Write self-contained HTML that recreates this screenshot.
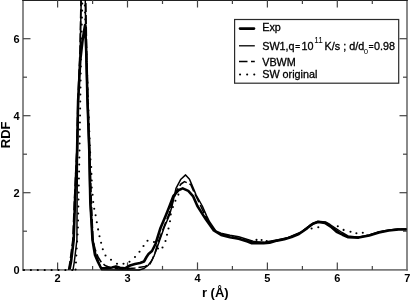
<!DOCTYPE html>
<html><head><meta charset="utf-8"><title>RDF</title>
<style>html,body{margin:0;padding:0;background:#fff;overflow:hidden}svg{display:block}</style>
</head><body>
<svg width="410" height="301" viewBox="0 0 410 301">
<defs><clipPath id="c"><rect x="23" y="0" width="384" height="271"/></clipPath></defs>
<rect width="410" height="301" fill="#fff"/>
<g fill="#6e6e6e">
<rect x="22.2" y="0" width="1.6" height="270.7"/>
<rect x="406.2" y="0" width="1.6" height="270.7"/>
<rect x="22.2" y="269.1" width="385.6" height="1.6"/>
</g>
<rect x="22.2" y="0" width="385.6" height="1" fill="#222"/>
<g stroke="#444" stroke-width="1.2">
<line x1="57.6" y1="269.9" x2="57.6" y2="262.4"/>
<line x1="57.6" y1="0" x2="57.6" y2="7.5"/>
<line x1="92.6" y1="269.9" x2="92.6" y2="265.9"/>
<line x1="92.6" y1="0" x2="92.6" y2="4.0"/>
<line x1="127.5" y1="269.9" x2="127.5" y2="262.4"/>
<line x1="127.5" y1="0" x2="127.5" y2="7.5"/>
<line x1="162.5" y1="269.9" x2="162.5" y2="265.9"/>
<line x1="162.5" y1="0" x2="162.5" y2="4.0"/>
<line x1="197.5" y1="269.9" x2="197.5" y2="262.4"/>
<line x1="197.5" y1="0" x2="197.5" y2="7.5"/>
<line x1="232.4" y1="269.9" x2="232.4" y2="265.9"/>
<line x1="232.4" y1="0" x2="232.4" y2="4.0"/>
<line x1="267.4" y1="269.9" x2="267.4" y2="262.4"/>
<line x1="267.4" y1="0" x2="267.4" y2="7.5"/>
<line x1="302.4" y1="269.9" x2="302.4" y2="265.9"/>
<line x1="302.4" y1="0" x2="302.4" y2="4.0"/>
<line x1="337.3" y1="269.9" x2="337.3" y2="262.4"/>
<line x1="337.3" y1="0" x2="337.3" y2="7.5"/>
<line x1="372.3" y1="269.9" x2="372.3" y2="265.9"/>
<line x1="372.3" y1="0" x2="372.3" y2="4.0"/>
<line x1="23.0" y1="231.2" x2="27.0" y2="231.2"/>
<line x1="407.0" y1="231.2" x2="403.0" y2="231.2"/>
<line x1="23.0" y1="192.7" x2="30.5" y2="192.7"/>
<line x1="407.0" y1="192.7" x2="399.5" y2="192.7"/>
<line x1="23.0" y1="154.2" x2="27.0" y2="154.2"/>
<line x1="407.0" y1="154.2" x2="403.0" y2="154.2"/>
<line x1="23.0" y1="115.7" x2="30.5" y2="115.7"/>
<line x1="407.0" y1="115.7" x2="399.5" y2="115.7"/>
<line x1="23.0" y1="77.2" x2="27.0" y2="77.2"/>
<line x1="407.0" y1="77.2" x2="403.0" y2="77.2"/>
<line x1="23.0" y1="38.7" x2="30.5" y2="38.7"/>
<line x1="407.0" y1="38.7" x2="399.5" y2="38.7"/>
</g>
<g clip-path="url(#c)" fill="none" stroke="#000" stroke-linejoin="round">
<polyline points="69.5,269.5 71.0,262.0 73.7,240.0 75.0,201.0 77.1,151.0 78.1,101.0 80.3,60.0 82.6,40.0 85.1,25.0 86.2,50.0 87.5,101.0 89.3,151.0 90.3,201.0 92.5,240.0 95.0,255.0 98.0,262.0 101.0,268.0 106.8,268.3 112.0,267.5 116.0,266.4 120.0,267.8 125.0,268.3 130.0,265.5 135.0,264.0 140.0,263.0 144.0,261.5 146.5,257.0 148.5,254.0 152.0,251.0 154.0,247.0 155.5,244.0 160.5,228.0 166.0,215.0 169.2,207.0 173.5,195.8 178.4,190.3 182.7,188.4 188.3,190.9 193.2,196.4 197.4,206.0 206.0,219.6 213.8,230.5 221.1,235.0 229.9,237.2 238.7,238.8 247.5,241.5 251.9,243.3 263.6,243.3 269.6,242.8 277.0,240.6 284.3,239.2 291.6,237.0 298.9,234.0 307.3,228.1 313.2,223.4 318.3,222.0 324.9,223.0 330.7,226.6 336.6,231.8 342.5,234.7 348.3,237.2 358.6,237.6 369.2,235.4 379.0,232.5 388.8,230.5 398.6,229.5 406.5,229.5" stroke-width="2.6"/>
<polyline points="73.0,269.9 74.3,262.0 76.9,240.0 77.1,201.0 77.5,151.0 78.4,101.0 80.2,50.0 81.3,-5.0 85.2,-5.0 85.9,50.0 87.3,101.0 89.0,151.0 90.0,201.0 92.5,240.0 96.0,255.0 101.5,269.8 139.0,270.0 144.0,268.5 148.0,265.5 151.5,261.0 154.0,256.0 157.0,248.0 158.0,245.0 164.0,228.0 169.5,215.0 172.0,206.0 176.0,188.4 180.9,179.2 185.6,174.9 189.5,179.2 194.4,190.9 196.1,195.0 202.3,206.0 206.6,215.9 209.7,222.0 215.8,231.0 221.0,233.3 230.0,235.3 238.7,236.8 247.5,239.5 253.0,241.3 258.0,242.3 265.2,242.0 278.4,239.8 288.2,237.5 301.3,232.0 310.1,225.0 317.8,221.3 325.5,222.0 330.0,224.5 336.0,228.5 342.0,232.5 348.0,236.0 358.4,237.2 369.2,235.0 379.0,231.8 388.8,230.0 398.6,229.0 406.5,229.0" stroke-width="1.5"/>
<polyline points="68.6,269.9 70.0,262.0 72.8,240.0 74.4,201.0 76.8,151.0 77.9,101.0 80.0,50.0 81.1,-5.0 85.7,-5.0 86.6,50.0 87.9,101.0 89.7,151.0 91.3,201.0 93.0,240.0 95.0,249.0 98.0,257.0 101.5,262.5 105.0,265.5 110.0,267.5 118.0,268.8 125.0,269.0 135.0,268.0 145.0,266.5 150.0,264.0 152.5,259.0 155.0,253.0 157.5,244.0 163.5,228.0 169.0,214.0 172.5,202.0 177.0,190.0 181.0,184.0 184.5,181.6 190.7,184.5 194.0,192.0 199.0,202.3 205.0,215.0 211.0,226.0 216.0,231.5 221.3,234.0 234.5,237.5 249.9,241.5 265.2,242.5 278.4,240.5 288.2,238.0 301.3,232.5 310.1,225.5 317.8,221.7 325.5,222.5 332.1,227.0 338.7,232.0 347.4,236.5 358.4,237.5 369.2,235.2 379.0,232.2 388.8,230.2 398.6,229.2 406.5,229.2" stroke-width="1.6" stroke-dasharray="9 3"/>
<polyline points="75.6,269.5 76.6,250.0 77.9,230.0 79.5,151.0 80.3,100.0 81.1,50.0 82.5,-5.0 84.5,-5.0 86.3,50.0 88.0,100.0 90.6,162.8" stroke-width="2" stroke-dasharray="0.1 6.9" stroke-linecap="round"/>
<g fill="#000" stroke="none"><circle cx="24.0" cy="270.0" r="1.05"/><circle cx="30.9" cy="270.0" r="1.05"/><circle cx="37.8" cy="270.0" r="1.05"/><circle cx="44.7" cy="270.0" r="1.05"/><circle cx="51.6" cy="270.0" r="1.05"/><circle cx="58.5" cy="270.0" r="1.05"/><circle cx="65.4" cy="270.0" r="1.05"/><circle cx="72.3" cy="270.0" r="1.05"/><circle cx="91.2" cy="167.0" r="1.05"/><circle cx="91.4" cy="173.9" r="1.05"/><circle cx="91.7" cy="180.5" r="1.05"/><circle cx="91.7" cy="187.6" r="1.05"/><circle cx="92.6" cy="194.7" r="1.05"/><circle cx="93.2" cy="202.0" r="1.05"/><circle cx="94.2" cy="208.8" r="1.05"/><circle cx="95.6" cy="215.3" r="1.05"/><circle cx="96.8" cy="222.2" r="1.05"/><circle cx="98.1" cy="229.4" r="1.05"/><circle cx="99.5" cy="236.3" r="1.05"/><circle cx="101.1" cy="242.7" r="1.05"/><circle cx="102.8" cy="249.2" r="1.05"/><circle cx="105.5" cy="255.5" r="1.05"/><circle cx="111.0" cy="259.8" r="1.05"/><circle cx="117.0" cy="263.8" r="1.05"/><circle cx="123.5" cy="263.8" r="1.05"/><circle cx="129.5" cy="261.8" r="1.05"/><circle cx="135.0" cy="257.0" r="1.05"/><circle cx="139.5" cy="251.8" r="1.05"/><circle cx="143.5" cy="246.0" r="1.05"/><circle cx="147.5" cy="240.8" r="1.05"/><circle cx="154.0" cy="242.0" r="1.05"/><circle cx="158.0" cy="248.5" r="1.05"/><circle cx="162.5" cy="247.5" r="1.05"/><circle cx="165.5" cy="241.0" r="1.05"/><circle cx="167.0" cy="234.8" r="1.05"/><circle cx="168.5" cy="228.5" r="1.05"/><circle cx="170.0" cy="221.2" r="1.05"/><circle cx="170.7" cy="214.4" r="1.05"/><circle cx="172.9" cy="207.1" r="1.05"/><circle cx="175.4" cy="200.7" r="1.05"/><circle cx="178.4" cy="194.6" r="1.05"/><circle cx="256.5" cy="239.9" r="1.05"/><circle cx="261.6" cy="240.0" r="1.05"/><circle cx="266.7" cy="241.0" r="1.05"/><circle cx="311.6" cy="228.5" r="1.05"/><circle cx="318.3" cy="227.2" r="1.05"/><circle cx="337.8" cy="226.3" r="1.05"/><circle cx="343.6" cy="229.9" r="1.05"/><circle cx="350.5" cy="231.8" r="1.05"/><circle cx="356.4" cy="233.2" r="1.05"/><circle cx="362.8" cy="232.8" r="1.05"/></g>
</g>
<g font-family="'Liberation Sans', Arial, sans-serif" font-weight="bold" font-size="11px" fill="#000">
<text x="57.6" y="281.8" text-anchor="middle">2</text>
<text x="127.5" y="281.8" text-anchor="middle">3</text>
<text x="197.5" y="281.8" text-anchor="middle">4</text>
<text x="267.4" y="281.8" text-anchor="middle">5</text>
<text x="337.3" y="281.8" text-anchor="middle">6</text>
<text x="407.3" y="281.8" text-anchor="middle">7</text>
<text x="19.6" y="273.9" text-anchor="end">0</text>
<text x="19.6" y="196.9" text-anchor="end">2</text>
<text x="19.6" y="119.9" text-anchor="end">4</text>
<text x="19.6" y="42.9" text-anchor="end">6</text>
</g>
<g font-family="'Liberation Sans', Arial, sans-serif" font-weight="bold" font-size="13px" fill="#000">
<text x="215.3" y="297" text-anchor="middle">r (Å)</text>
<text transform="translate(9.7,134.8) rotate(-90)" text-anchor="middle">RDF</text>
</g>
<rect x="234.6" y="19.5" width="164.1" height="63.7" fill="#fff" stroke="#2a2a2a" stroke-width="1.2"/>
<g stroke="#000" fill="none">
<line x1="240" y1="28.6" x2="254" y2="28.6" stroke-width="2.6" stroke-linecap="round"/>
<line x1="239" y1="45.8" x2="254.8" y2="45.8" stroke-width="1.3"/>
<line x1="239" y1="61.6" x2="254.8" y2="61.6" stroke-width="1.5" stroke-dasharray="8.5 3.5"/>
<line x1="240" y1="74.5" x2="255" y2="74.5" stroke-width="2" stroke-dasharray="0.1 7" stroke-linecap="round"/>
</g>
<g font-family="'Liberation Sans', Arial, sans-serif" font-size="10.8px" fill="#000" stroke="#000" stroke-width="0.3">
<text x="262.2" y="31.3">Exp</text>
<text y="49.5"><tspan x="262.2">SW1,q</tspan><tspan x="295" font-size="9px" font-weight="bold" stroke="none">=</tspan><tspan x="301.4">10</tspan><tspan x="314.2" dy="-6.3" font-size="8.2px" stroke="none">11</tspan><tspan x="324.6" dy="6.3">K/s ; d/d</tspan><tspan x="363.8" dy="4.3" font-size="7.8px" stroke="none">0</tspan><tspan x="368.4" dy="-4.3" font-size="9px" font-weight="bold" stroke="none">=</tspan><tspan x="374">0.98</tspan></text>
<text x="262.2" y="65.5">VBWM</text>
<text x="262.2" y="77.5">SW original</text>
</g>
</svg>
</body></html>
